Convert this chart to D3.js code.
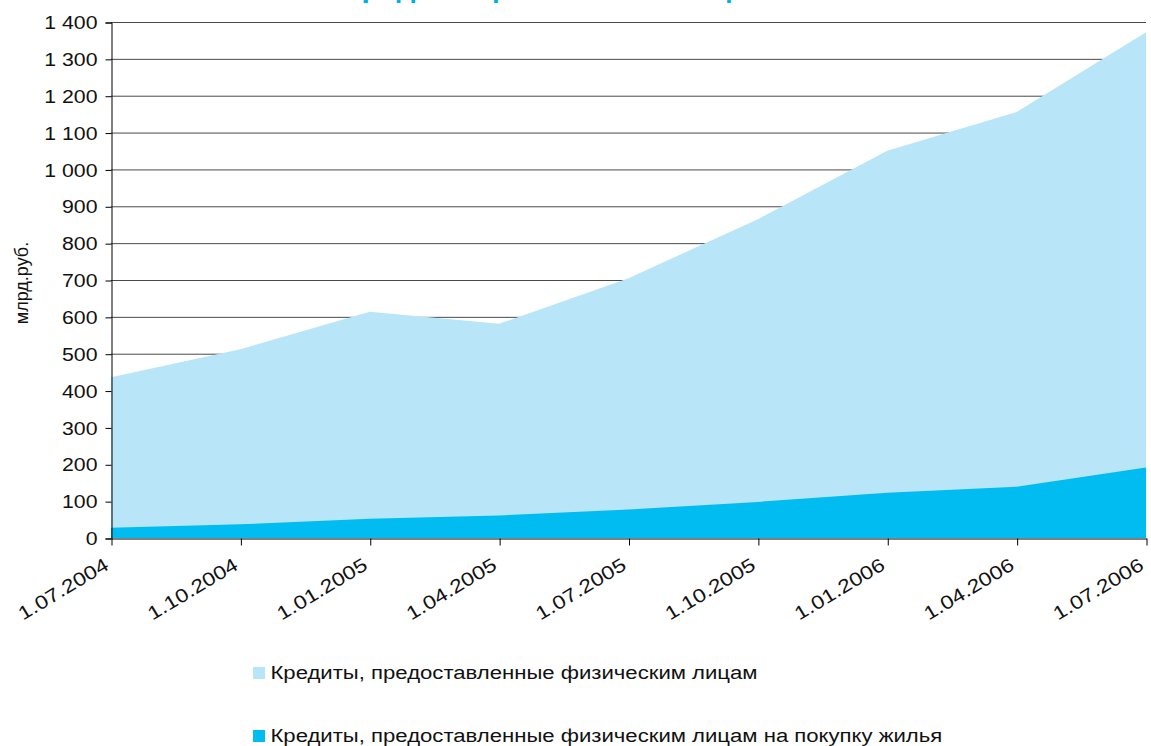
<!DOCTYPE html>
<html>
<head>
<meta charset="utf-8">
<script src="https://cdn.jsdelivr.net/npm/d3@7/dist/d3.min.js"></script>
<style>
  html, body { margin: 0; padding: 0; background: #fff; }
  svg { display: block; font-family: "Liberation Sans", Arial, sans-serif; }
</style>
</head>
<body>
<div id="chart"></div>
<script>
// Dates on the x axis
const dates = ['1.07.2004', '1.10.2004', '1.01.2005', '1.04.2005', '1.07.2005',
               '1.10.2005', '1.01.2006', '1.04.2006', '1.07.2006'];
// Credits to individuals, bn rub
const totalCredits = [436, 512, 614, 581, 705, 865, 1051, 1156, 1372];
// Credits to individuals for housing, bn rub
const housingCredits = [28, 37, 52, 61, 77, 98, 123, 139, 191];
const yTicks = [0, 100, 200, 300, 400, 500, 600, 700, 800, 900, 1000, 1100, 1200, 1300, 1400];
const seriesNames = ['Кредиты, предоставленные физическим лицам',
                     'Кредиты, предоставленные физическим лицам на покупку жилья'];
const titleText = 'Кредиты физическим лицам в России';

const width = 1151, height = 746;
const margin = { top: 22, right: 5, bottom: 208, left: 111 };
const lightBlue = '#b9e5f8', brightBlue = '#00bcf1';

const svg = d3.select('#chart').append('svg')
  .attr('width', width)
  .attr('height', height);

const x = d3.scalePoint()
  .domain(dates)
  .range([margin.left, width - margin.right]);

const y = d3.scaleLinear()
  .domain([0, 1400])
  .range([height - margin.bottom, margin.top]);

const fmt = v => d3.format(',')(v).replace(/,/g, ' ');

// Title (cut off at the top in the original)
svg.append('text')
  .attr('x', 628)
  .attr('y', -3)
  .attr('text-anchor', 'middle')
  .attr('font-size', '30px')
  .attr('font-weight', 'bold')
  .attr('fill', '#00aeef')
  .text(titleText);

// Gridlines
svg.append('g')
  .selectAll('line')
  .data(yTicks.filter(d => d > 0))
  .enter()
  .append('line')
  .attr('x1', margin.left)
  .attr('x2', width - margin.right)
  .attr('y1', d => y(d) + 0.5)
  .attr('y2', d => y(d) + 0.5)
  .attr('stroke', '#4a4a4a')
  .attr('stroke-width', 1);

// Areas
const areaTotal = d3.area()
  .x((d, i) => x(dates[i]))
  .y0(y(0))
  .y1(d => y(d));

svg.append('path')
  .datum(totalCredits)
  .attr('d', areaTotal)
  .attr('fill', lightBlue);

svg.append('path')
  .datum(housingCredits)
  .attr('d', areaTotal)
  .attr('fill', brightBlue);

// Y axis
const yAxis = svg.append('g')
  .attr('transform', `translate(${margin.left + 0.5}, 0.5)`)
  .call(d3.axisLeft(y).tickValues(yTicks).tickSize(6).tickPadding(8).tickFormat(fmt));
yAxis.select('.domain').attr('stroke', '#000');
yAxis.selectAll('.tick line').attr('stroke', '#000');
yAxis.selectAll('text')
  .attr('font-size', '19px')
  .attr('fill', '#111')
  .attr('x', -12.5)
  .attr('transform', 'scale(1.12, 1)')
  .attr('font-family', '"Liberation Sans", Arial, sans-serif');

// X axis
const xAxis = svg.append('g')
  .attr('transform', `translate(0.5, ${y(0) + 0.5})`)
  .call(d3.axisBottom(x).tickSize(7).tickSizeOuter(0));
xAxis.select('.domain').attr('stroke', '#000');
xAxis.selectAll('.tick line').attr('stroke', '#000');
xAxis.selectAll('text')
  .attr('font-size', '19px')
  .attr('fill', '#111')
  .attr('font-family', '"Liberation Sans", Arial, sans-serif')
  .attr('text-anchor', 'end')
  .attr('y', 0)
  .attr('dy', 0)
  .attr('transform', 'translate(-2, 30) rotate(-31) scale(1.2, 1)');

// Y axis label
svg.append('text')
  .attr('transform', 'translate(28, 283) rotate(-90)')
  .attr('text-anchor', 'middle')
  .attr('font-size', '18px')
  .attr('fill', '#111')
  .text('млрд.руб.');

// Legend
const legend = svg.append('g');
const legendItems = legend.selectAll('g')
  .data(seriesNames)
  .enter()
  .append('g')
  .attr('transform', (d, i) => `translate(253, ${667 + i * 63})`);

legendItems.append('rect')
  .attr('width', 12)
  .attr('height', 12)
  .attr('fill', (d, i) => i === 0 ? lightBlue : brightBlue);

legendItems.append('text')
  .attr('x', 15)
  .attr('y', 12)
  .attr('font-size', '19px')
  .attr('fill', '#111')
  .attr('transform', 'scale(1.165, 1)')
  .attr('transform-origin', '0 0')
  .text(d => d);
</script>
</body>
</html>
